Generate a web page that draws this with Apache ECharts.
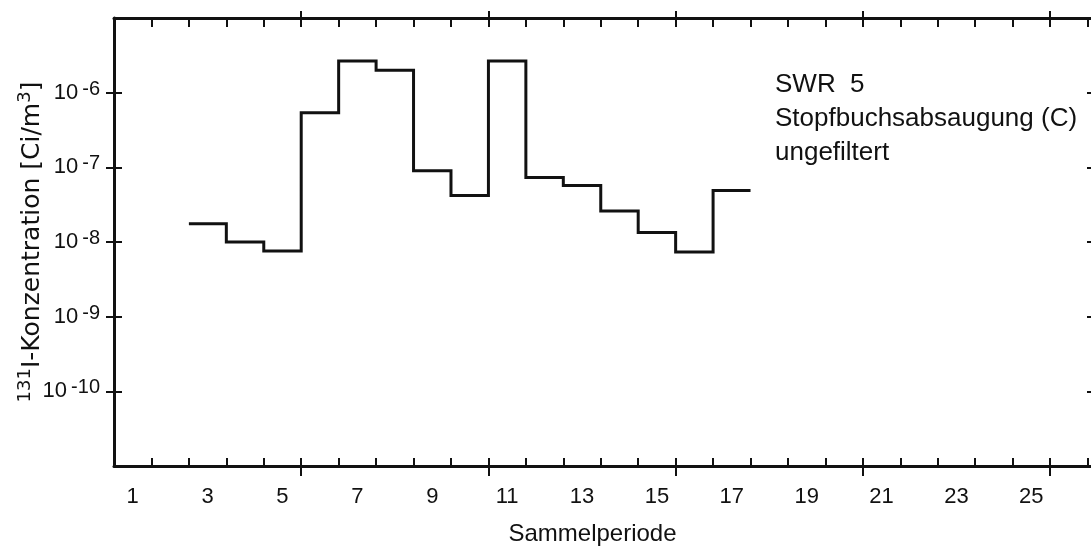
<!DOCTYPE html>
<html>
<head>
<meta charset="utf-8">
<script src="https://cdn.jsdelivr.net/npm/echarts@6/dist/echarts.min.js"></script>
<style>
html,body{margin:0;padding:0;background:#fff;}
#chart{width:1091px;height:548px;}
</style>
</head>
<body>
<div id="chart"></div>
<script>
// Sammelperiode (collection periods) that carry a measurement
var PERIODS = [3, 4, 5, 6, 7, 8, 9, 10, 11, 12, 13, 14, 15, 16, 17];
// 131I concentration [Ci/m3] for each period
var VALUES = [1.76e-8, 1.0e-8, 7.6e-9, 5.4e-7, 2.65e-6, 2.0e-6, 9.0e-8, 4.2e-8, 2.65e-6, 7.3e-8, 5.7e-8, 2.6e-8, 1.34e-8, 7.35e-9, 4.9e-8];
// x tick labels (period numbers shown)
var X_LABELS = [1, 3, 5, 7, 9, 11, 13, 15, 17, 19, 21, 23, 25];
// period boundaries with small ticks, and the longer crossing ticks
var X_TICKS = [1, 2, 3, 4, 5, 6, 7, 8, 9, 10, 11, 12, 13, 14, 15, 16, 17, 18, 19, 20, 21, 22, 23, 24, 25, 26];
var X_MAJOR_TICKS = [5, 10, 15, 20, 25];
var X_MAX = 26.2;
// y axis range (log) and labelled decades
var Y_MIN = 1e-11, Y_MAX = 1e-5;
var Y_TICKS = [1e-10, 1e-9, 1e-8, 1e-7, 1e-6];
var ANNOTATION = ['SWR  5', 'Stopfbuchsabsaugung (C)', 'ungefiltert'];
var X_NAME = 'Sammelperiode';

var INK = '#111';
var FONT = '"Liberation Sans", Arial, sans-serif';
var WIDE = '"DejaVu Sans", "Liberation Sans", sans-serif';

var stepData = [];
for (var i = 0; i < PERIODS.length; i++) {
  stepData.push([PERIODS[i] - 1, VALUES[i]]);
  stepData.push([PERIODS[i], VALUES[i]]);
}

function xAxisBase(extra) {
  var a = {
    type: 'value', min: 0, max: X_MAX, gridIndex: 0,
    splitLine: {show: false},
    axisLabel: {show: false},
    axisLine: {show: false, onZero: false},
    axisTick: {show: false}
  };
  for (var k in extra) a[k] = extra[k];
  return a;
}
function yAxisBase(extra) {
  var a = {
    type: 'log', logBase: 10, min: Y_MIN, max: Y_MAX, gridIndex: 0,
    splitLine: {show: false},
    axisLabel: {show: false},
    axisLine: {show: false},
    axisTick: {show: false}
  };
  for (var k in extra) a[k] = extra[k];
  return a;
}

var chart = echarts.init(document.getElementById('chart'), null, {renderer: 'canvas'});
chart.setOption({
  backgroundColor: '#fff',
  animation: false,
  grid: {left: 114, right: -4, top: 18, bottom: 82, containLabel: false, outerBoundsMode: 'none'},
  xAxis: [
    xAxisBase({
      position: 'bottom',
      name: X_NAME, nameLocation: 'middle', nameGap: 56, nameMoveOverlap: false,
      nameTextStyle: {fontFamily: FONT, fontSize: 24, color: INK, padding: [0, 24, 0, 0]},
      axisLine: {show: true, onZero: false, lineStyle: {color: INK, width: 3}},
      axisTick: {show: true, inside: true, length: 8, customValues: X_TICKS, lineStyle: {color: INK, width: 2}},
      axisLabel: {
        show: true, margin: 20, fontFamily: FONT, fontSize: 22, color: INK,
        customValues: X_LABELS.map(function (n) { return n - 0.5; }),
        formatter: function (v) { return String(Math.round(v + 0.5)); }
      }
    }),
    xAxisBase({
      position: 'bottom',
      axisTick: {show: true, inside: false, length: 10, customValues: X_MAJOR_TICKS, lineStyle: {color: INK, width: 2}}
    }),
    xAxisBase({
      position: 'top',
      axisLine: {show: true, onZero: false, lineStyle: {color: INK, width: 3}},
      axisTick: {show: true, inside: true, length: 9, customValues: X_TICKS, lineStyle: {color: INK, width: 2}}
    }),
    xAxisBase({
      position: 'top',
      axisTick: {show: true, inside: false, length: 7, customValues: X_MAJOR_TICKS, lineStyle: {color: INK, width: 2}}
    })
  ],
  yAxis: [
    yAxisBase({
      position: 'left',
      name: '{sup|131}{n|I-Konzentration [Ci/m}{sup|3}{n|]}',
      nameLocation: 'middle', nameGap: 66, nameMoveOverlap: false,
      nameTextStyle: {
        color: INK, fontFamily: WIDE,
        rich: {
          n: {fontFamily: WIDE, fontSize: 25, color: INK},
          sup: {fontFamily: WIDE, fontSize: 18, color: INK, padding: [0, 0, 14, 0]}
        }
      },
      axisLine: {show: true, onZero: false, lineStyle: {color: INK, width: 3}},
      axisTick: {show: true, inside: true, length: 8, lineStyle: {color: INK, width: 2}},
      axisLabel: {
        show: true, margin: 14, showMinLabel: false, showMaxLabel: false,
        formatter: function (v) {
          var e = Math.round(Math.log(v) / Math.LN10);
          return '{b|10}{s|' + e + '}';
        },
        rich: {
          b: {fontFamily: FONT, fontSize: 22, color: INK},
          s: {fontFamily: FONT, fontSize: 20, color: INK, padding: [0, 0, 7, 4]}
        }
      }
    }),
    yAxisBase({
      position: 'left',
      axisTick: {show: true, inside: false, length: 8, customValues: Y_TICKS, lineStyle: {color: INK, width: 2}}
    }),
    yAxisBase({
      position: 'right',
      axisLine: {show: true, onZero: false, lineStyle: {color: INK, width: 3}},
      axisTick: {show: true, inside: true, length: 8, lineStyle: {color: INK, width: 2}}
    })
  ],
  series: [{
    type: 'line',
    xAxisIndex: 0, yAxisIndex: 0,
    data: stepData,
    symbol: 'none',
    lineStyle: {color: INK, width: 3, join: 'miter'},
    itemStyle: {color: INK},
    silent: true
  }],
  graphic: [
    {type: 'text', left: 775, top: 72, style: {text: ANNOTATION[0], font: '26px ' + FONT, fill: INK}},
    {type: 'text', left: 775, top: 106, style: {text: ANNOTATION[1], font: '26px ' + FONT, fill: INK}},
    {type: 'text', left: 775, top: 140, style: {text: ANNOTATION[2], font: '26px ' + FONT, fill: INK}}
  ]
});
</script>
</body>
</html>
